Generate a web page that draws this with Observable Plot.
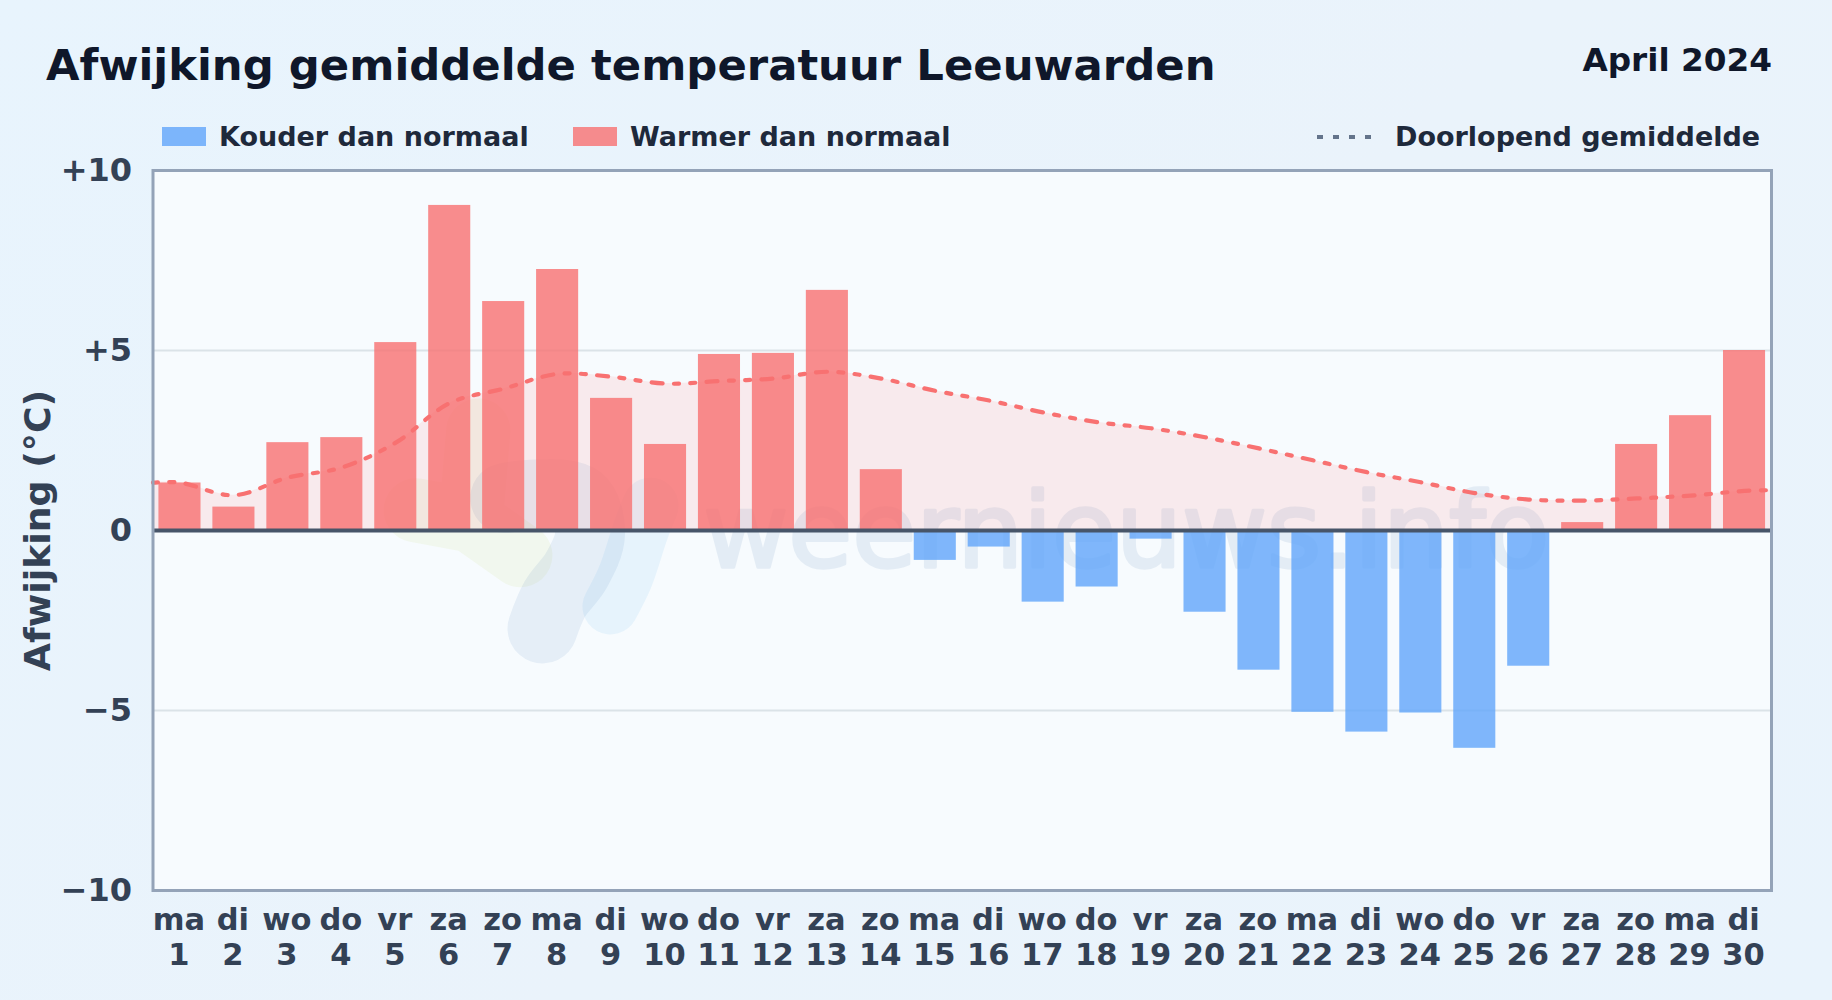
<!DOCTYPE html>
<html lang="nl">
<head>
<meta charset="utf-8">
<script src="https://cdn.jsdelivr.net/npm/d3@7"></script>
<script src="https://cdn.jsdelivr.net/npm/@observablehq/plot@0.6"></script>
<style>
  html, body { margin: 0; padding: 0; }
  body { width: 1832px; height: 1000px; overflow: hidden; position: relative;
         background: linear-gradient(135deg, #e8f4fd 0%, #eaf3fb 55%, #e9f3fc 100%);
         font-family: "DejaVu Sans", sans-serif; font-weight: bold; }
  #header { position: relative; height: 150px; }
  #header > * { position: absolute; white-space: nowrap; }
  #title { left: 46px; top: 40px; font-size: 43.35px; line-height: 50px; color: #0f172a; }
  #period { right: 60px; top: 41px; font-size: 32.7px; line-height: 38px; color: #0f172a; }
  .lg { top: 120px; font-size: 27px; line-height: 34px; color: #1e293b; }
  .sw { top: 127px; width: 44px; height: 19px; }
  #chart svg { display: block; background: transparent; }
</style>
</head>
<body>
<div id="header">
  <div id="title">Afwijking gemiddelde temperatuur Leeuwarden</div>
  <div id="period">April 2024</div>
  <div class="sw" style="left:162px;background:#60a5fa;opacity:.8"></div>
  <div class="lg" style="left:219px">Kouder dan normaal</div>
  <div class="sw" style="left:573px;background:#f87171;opacity:.8"></div>
  <div class="lg" style="left:630px">Warmer dan normaal</div>
  <svg style="left:1316px;top:133px" width="58" height="8"><line x1="1" y1="4" x2="57" y2="4" stroke="#64748b" stroke-width="4" stroke-dasharray="6 10"/></svg>
  <div class="lg" style="left:1395px">Doorlopend gemiddelde</div>
</div>
<div id="chart"></div>
<script>
const weekdays = ["ma","di","wo","do","vr","za","zo","ma","di","wo","do","vr","za","zo","ma","di","wo","do","vr","za","zo","ma","di","wo","do","vr","za","zo","ma","di"];
const days = d3.range(1, 31);
const anomaly = [1.32,0.65,2.44,2.58,5.22,9.03,6.36,7.25,3.67,2.39,4.89,4.92,6.67,1.69,-0.83,-0.46,-1.99,-1.57,-0.24,-2.27,-3.88,-5.05,-5.60,-5.07,-6.05,-3.77,0.22,2.39,3.19,5.00];
const runningX = [0.5,1,2,3,4,5,6,7,8,9,10,11,12,13,14,15,16,17,18,19,20,21,22,23,24,25,26,27,28,29,30,30.5];
const runningY = [1.33,1.33,0.98,1.47,1.75,2.44,3.54,3.94,4.35,4.27,4.08,4.15,4.22,4.41,4.22,3.88,3.61,3.28,3.01,2.84,2.59,2.28,1.95,1.62,1.34,1.04,0.86,0.83,0.89,0.97,1.10,1.12];
const yTicks = [10,5,0,-5,-10];
const gridValues = [5,-5];
const barHalfWidth = 0.39;

// watermark shapes, in day / degree units
const logoDark = {x:[7.72,7.95,8.35,8.6,8.4,7.6,7.03], y:[-2.72,-1.9,-1.1,-0.1,0.85,1.0,0.9]};
const logoGreen = {x:[5.37,6.39,6.53,6.39,7.31], y:[0.56,0.28,2.78,0.28,-0.69]};
const logoLight = {x:[8.98,9.25,9.54,9.72], y:[-2.11,-1.3,0,0.69]};
const pairs = s => s.x.map((x,i)=>({x, y:s.y[i]}));

const table = days.map((d,i)=>({day:d, label:weekdays[i], v:anomaly[i]}));
const running = runningX.map((x,i)=>({x, y:runningY[i]}));
const fmtY = v => v === 0 ? "0" : v > 0 ? "+"+v : "\u2212"+Math.abs(v);
const blob = {strokeLinecap:"round", strokeLinejoin:"round", x:"x", y:"y"};

const plot = Plot.plot({
  width: 1832, height: 850,
  marginLeft: 152.5, marginRight: 61, marginTop: 20, marginBottom: 110,
  style: {background:"transparent", fontFamily:'"DejaVu Sans", sans-serif', overflow:"visible"},
  x: {type:"linear", domain:[0.5,30.5], axis:null},
  y: {domain:[-10,10], axis:null},
  marks: [
    Plot.frame({fill:"#f7fbfe", fillOpacity:1, stroke:null}),
    Plot.ruleY(gridValues, {stroke:"#dbe3e8", strokeWidth:2}),
    Plot.line(pairs(logoGreen), {...blob, stroke:"#a8c818", strokeOpacity:0.07, strokeWidth:64}),
    Plot.line(pairs(logoDark), {...blob, curve:"catmull-rom", stroke:"#1e5aa0", strokeOpacity:0.08, strokeWidth:70}),
    Plot.line(pairs(logoLight), {...blob, curve:"catmull-rom", stroke:"#2a9ae0", strokeOpacity:0.08, strokeWidth:56}),
    Plot.text(["weernieuws.info"], {x:18.54, y:-1.02, text:d=>d, lineAnchor:"bottom", textAnchor:"middle",
      fontSize:104, fontWeight:"normal", fill:"#1e5aa0", stroke:"#1e5aa0", strokeWidth:3.5, opacity:0.085}),
    Plot.areaY(running, {x:"x", y1:0, y2:"y", curve:"catmull-rom", fill:"#ff7070", fillOpacity:0.12}),
    Plot.rectY(table, {x1:d=>d.day-barHalfWidth, x2:d=>d.day+barHalfWidth, y1:0, y2:"v",
      fill:d=>d.v>=0?"#f87171":"#60a5fa", fillOpacity:0.8}),
    Plot.line(running, {x:"x", y:"y", curve:"catmull-rom", stroke:"#f87171", strokeWidth:4.2,
      strokeLinecap:"round", strokeDasharray:"5 11.3 5 11.3 11 11.4"}),
    Plot.ruleY([0], {stroke:"#475569", strokeWidth:4}),
    Plot.frame({stroke:"#94a3b8", strokeWidth:3}),
    Plot.axisY({ticks:yTicks, tickFormat:fmtY, tickSize:0, tickPadding:21, fontSize:32, fontWeight:"bold", fill:"#334155", label:null}),
    Plot.axisX({ticks:days, tickFormat:d=>weekdays[d-1]+"\n"+d, tickSize:0, tickPadding:15, fontSize:30.5, fontWeight:"bold", fill:"#334155", label:null, lineHeight:1.14, dx:-1}),
    Plot.text(["Afwijking (\u00b0C)"], {text:d=>d, frameAnchor:"left", textAnchor:"middle", rotate:-90, dx:-115, fontSize:36.3, fontWeight:"bold", fill:"#334155"})
  ]
});
document.getElementById("chart").appendChild(plot);
</script>
</body>
</html>
